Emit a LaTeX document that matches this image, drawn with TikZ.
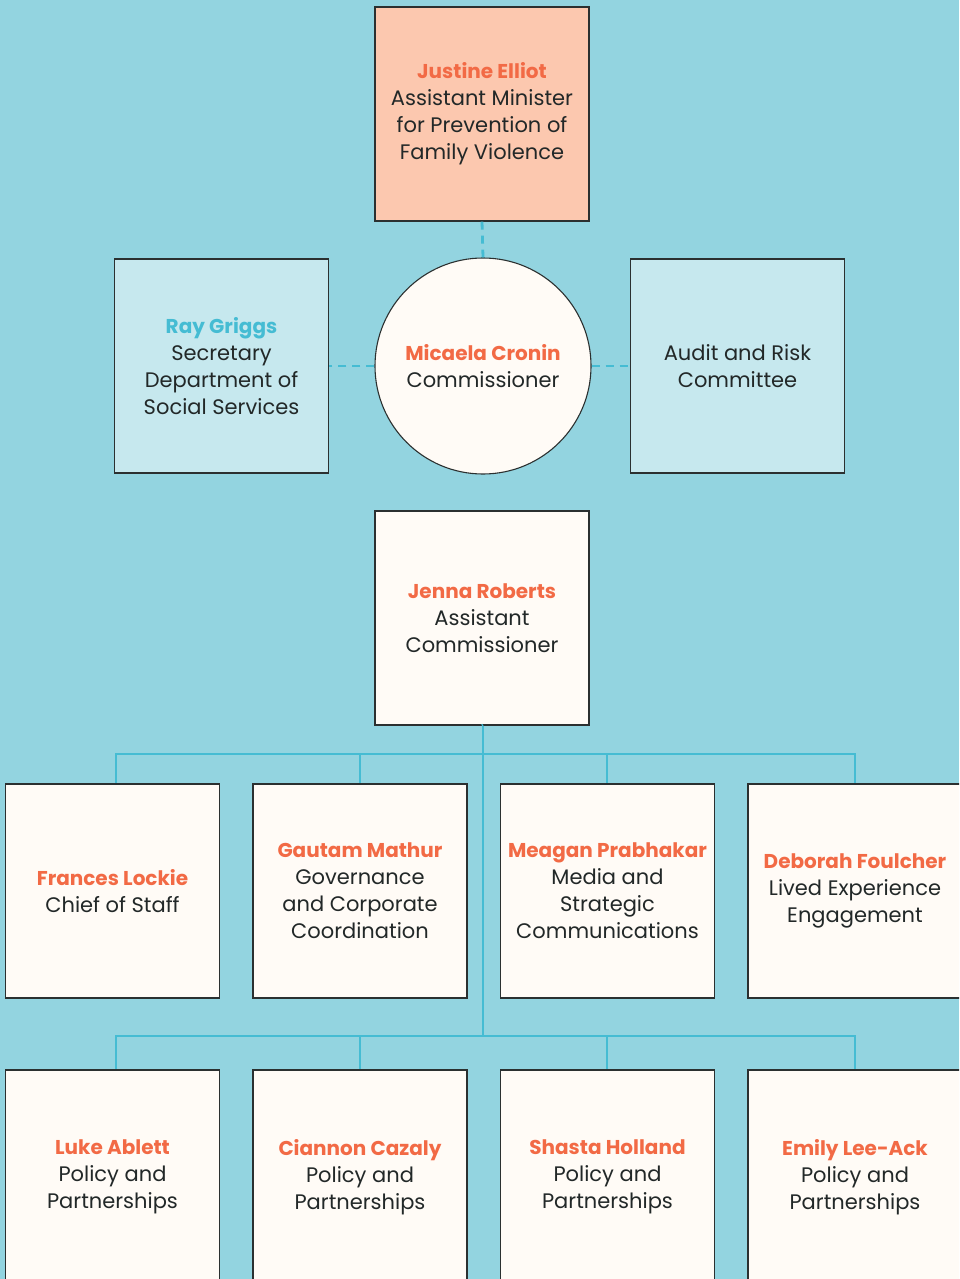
\documentclass[tikz,border=0pt]{standalone}
\usepackage{fontspec}
\setmainfont{Poppins}
\definecolor{bg}{HTML}{93D4E0}
\definecolor{lineblue}{HTML}{45BCD3}
\definecolor{peach}{HTML}{FCC8AF}
\definecolor{pale}{HTML}{C6E8EE}
\definecolor{cream}{HTML}{FFFBF6}
\definecolor{edge}{HTML}{2B3030}
\definecolor{nameorange}{HTML}{F26A45}
\definecolor{namecyan}{HTML}{45BCD3}
\definecolor{txt}{HTML}{222828}
\newcommand{\nm}[1]{{\fontsize{20}{27}\selectfont\bfseries\color{nameorange}#1}}
\newcommand{\nmc}[1]{{\fontsize{20}{27}\selectfont\bfseries\color{namecyan}#1}}
\begin{document}
\begin{tikzpicture}[x=1pt,y=-1pt,
  box/.style={draw=edge, line width=1.1pt, minimum width=214pt, minimum height=214pt,
    inner sep=0pt, align=center, text=txt, font=\fontsize{21}{27}\selectfont},
  peachbox/.style={box, fill=peach},
  palebox/.style={box, fill=pale},
  creambox/.style={box, fill=cream},
  roundbox/.style={circle, draw=edge, line width=1.1pt, fill=cream, minimum size=216pt,
    inner sep=0pt, align=center, text=txt, font=\fontsize{21}{27}\selectfont},
  link/.style={lineblue, line width=2.8pt},
  dashlink/.style={lineblue, line width=2.8pt, dash pattern=on 8pt off 6pt}]
\useasboundingbox (0,0) rectangle (959,1279);
\clip (0,0) rectangle (959,1279);
\fill[bg] (0,0) rectangle (959,1279);

% coordinates for buses
\coordinate (busA) at (483,754);
\coordinate (busB) at (483,1036);

% connectors (drawn first)
\draw[link] (483,725) -- (busB);
\draw[link] (116,784) -- (116,754) -- (855,754) -- (855,784);
\draw[link] (360,754) -- (360,784);
\draw[link] (607,754) -- (607,784);
\draw[link] (116,1070) -- (116,1036) -- (855,1036) -- (855,1070);
\draw[link] (360,1036) -- (360,1070);
\draw[link] (607,1036) -- (607,1070);

\node[peachbox] (minister) at (482,114) {\nm{Justine Elliot}\\Assistant Minister\\for Prevention of\\Family Violence};
\node[palebox] (secretary) at (221.5,366) {\nmc{Ray Griggs}\\Secretary\\Department of\\Social Services};
\node[palebox] (audit) at (737.5,366) {Audit and Risk\\Committee};
\node[roundbox] (commissioner) at (483,366) {\nm{Micaela Cronin}\\Commissioner};
\node[creambox] (assistant) at (482,618) {\nm{Jenna Roberts}\\Assistant\\Commissioner};

\draw[dashlink] (minister.south) -- (commissioner.north);
\draw[dashlink] (commissioner.west) -- (secretary.east);
\draw[dashlink] (commissioner.east) -- (audit.west);
\draw[link] (assistant.south) -- (483,725);

\node[creambox] (lockie) at (112.5,891) {\nm{Frances Lockie}\\Chief of Staff};
\node[creambox] (mathur) at (360,891) {\nm{Gautam Mathur}\\Governance\\and Corporate\\Coordination};
\node[creambox] (prabhakar) at (607.5,891) {\nm{Meagan Prabhakar}\\Media and\\Strategic\\Communications};
\node[creambox] (foulcher) at (855,891) {\nm{Deborah Foulcher}\\Lived Experience\\Engagement};

\node[creambox] (ablett) at (112.5,1177) {\nm{Luke Ablett}\\Policy and\\Partnerships};
\node[creambox] (cazaly) at (360,1177) {\nm{Ciannon Cazaly}\\Policy and\\Partnerships};
\node[creambox] (holland) at (607.5,1177) {\nm{Shasta Holland}\\Policy and\\Partnerships};
\node[creambox] (leeack) at (855,1177) {\nm{Emily Lee-Ack}\\Policy and\\Partnerships};
\end{tikzpicture}
\end{document}
